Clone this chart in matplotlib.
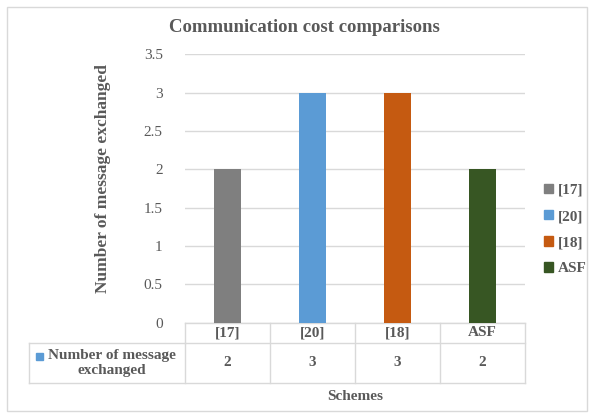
import matplotlib.pyplot as plt
from matplotlib.patches import Rectangle, Patch
from matplotlib.transforms import blended_transform_factory

schemes = ["[17]", "[20]", "[18]", "ASF"]
messages = [2, 3, 3, 2]
colors = ["#7F7F7F", "#5B9BD5", "#C55A11", "#375623"]
series_name = "Number of message\nexchanged"
yticks = [0, 0.5, 1, 1.5, 2, 2.5, 3, 3.5]

plt.rcParams["font.family"] = ["Liberation Serif", "DejaVu Serif"]
text_gray = "#595959"
line_gray = "#D9D9D9"

fig = plt.figure(figsize=(5.93, 4.17), dpi=100)
fig.patches.append(Rectangle((0.012, 0.014), 0.978, 0.97, transform=fig.transFigure,
                             fill=False, edgecolor=line_gray, linewidth=1))

ax = fig.add_axes([185 / 593, 1 - 322.7 / 417, 340 / 593, 268.4 / 417])
x = list(range(len(schemes)))
for i in x:
    ax.bar(i, messages[i], width=0.32, color=colors[i], label=schemes[i], zorder=3)

ax.set_xlim(-0.5, len(schemes) - 0.5)
ax.set_ylim(0, 3.5)
ax.set_yticks(yticks)
ax.set_yticklabels([f"{v:g}" for v in yticks], fontsize=11, color=text_gray)
ax.tick_params(axis="y", length=0, pad=16)
ax.set_xticks([])
ax.grid(axis="y", color=line_gray, linewidth=1, zorder=0)
for s in ["top", "right", "left", "bottom"]:
    ax.spines[s].set_visible(False)

fig.text(304 / 593, 1 - 28 / 417, "Communication cost comparisons", fontsize=13.5,
         fontweight="bold", color=text_gray, ha="center", va="center")
ax.set_ylabel("Number of message exchanged", fontsize=12.5, fontweight="bold",
              color=text_gray)
ax.yaxis.set_label_coords(-0.218, 0.539)

# data table under the axis
tr = blended_transform_factory(ax.transData, ax.transAxes)
px = 1 / 268.4
y_top, y_mid, y_bot = 0, -20.3 * px, -60.3 * px
x_head = (29 - 185) / 340
kw = dict(color=line_gray, linewidth=1, clip_on=False)
ax.plot([-0.5, 3.5], [y_top, y_top], transform=tr, **kw)
ax.plot([0, 1], [y_mid, y_mid], transform=ax.transAxes, **kw)
ax.plot([x_head, 0], [y_mid, y_mid], transform=ax.transAxes, **kw)
ax.plot([x_head, 1], [y_bot, y_bot], transform=ax.transAxes, **kw)
ax.plot([x_head, x_head], [y_mid, y_bot], transform=ax.transAxes, **kw)
for i in range(len(schemes) + 1):
    ax.plot([i - 0.5, i - 0.5], [y_top, y_bot], transform=tr, **kw)

for i in x:
    ax.text(i, (y_top + y_mid) / 2, schemes[i], transform=tr, ha="center", va="center",
            fontsize=11, fontweight="bold", color=text_gray)
    ax.text(i, (y_mid + y_bot) / 2, str(messages[i]), transform=tr, ha="center",
            va="center", fontsize=11, fontweight="bold", color=text_gray)

ax.text((x_head + 0) / 2 + 0.015, (y_mid + y_bot) / 2, series_name, transform=ax.transAxes,
        ha="center", va="center", fontsize=11, fontweight="bold", color=text_gray,
        multialignment="center")
ax.add_patch(Rectangle((x_head + 0.02, (y_mid + y_bot) / 2 + 3.5 * px), 0.021, 7 * px,
                       transform=ax.transAxes, color=colors[1], clip_on=False))

ax.text(0.5, -74 * px, "Schemes", transform=ax.transAxes, ha="center", va="center",
        fontsize=11, fontweight="bold", color=text_gray)

handles = [Patch(color=c, label=s) for c, s in zip(colors, schemes)]
leg = fig.legend(handles=handles, loc="center left", bbox_to_anchor=(544 / 593, 1 - 229.5 / 417),
                 frameon=False, fontsize=11, handlelength=0.6, handleheight=0.6,
                 handletextpad=0.3, labelspacing=0.85, borderpad=0, borderaxespad=0)
for t in leg.get_texts():
    t.set_fontweight("bold")
    t.set_color(text_gray)

fig.savefig("out.png", dpi=100)
